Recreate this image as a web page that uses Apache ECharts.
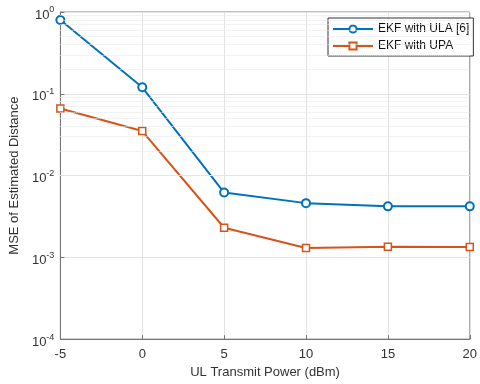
<!DOCTYPE html>
<html><head><meta charset="utf-8">
<script src="https://cdn.jsdelivr.net/npm/echarts@6/dist/echarts.min.js"></script>
<style>html,body{margin:0;padding:0;background:#fff}#c{width:480px;height:384px}</style>
</head><body><div id="c"></div>
<script>
var xValues = [-5, 0, 5, 10, 15, 20];
var ulaValues = [0.80, 0.12, 0.0062, 0.0046, 0.0042, 0.0042];
var upaValues = [0.066, 0.035, 0.0023, 0.0013, 0.00135, 0.00134];
var seriesNames = ['EKF with ULA [6]', 'EKF with UPA'];
var minorValues = [];
[1e-4, 1e-3, 1e-2, 1e-1].forEach(function (d) { for (var k = 2; k <= 9; k++) minorValues.push(+(d * k).toPrecision(3)); });

function pairs(ys) { return xValues.map(function (x, i) { return [x, ys[i]]; }); }
var font = 'Liberation Sans, Arial, sans-serif';
var chart = echarts.init(document.getElementById('c'));
chart.setOption({
  animation: false,
  grid: { left: 57, right: 4, top: 12, bottom: 44, show: true, borderColor: '#888', borderWidth: 1 },
  legend: {
    left: 328, top: 18, orient: 'vertical', itemWidth: 40, itemHeight: 9, itemGap: 5,
    backgroundColor: '#fff', borderColor: '#333', borderWidth: 1, padding: [5, 4, 4, 4],
    textStyle: { fontFamily: font, fontSize: 12, color: '#111' },
    data: seriesNames
  },
  xAxis: {
    type: 'value', min: -5, max: 20, interval: 5,
    name: 'UL Transmit Power (dBm)', nameLocation: 'middle', nameGap: 26,
    nameTextStyle: { fontFamily: font, fontSize: 13, color: '#333' },
    axisLine: { onZero: false, lineStyle: { color: '#777' } },
    axisTick: { inside: true, length: 4, lineStyle: { color: '#777' } },
    axisLabel: { fontFamily: font, fontSize: 13, color: '#333', margin: 9 },
    splitLine: { show: true, lineStyle: { color: '#e3e3e3', width: 1 } }
  },
  yAxis: {
    type: 'log', min: 1e-4, max: 1, logBase: 10,
    name: 'MSE of Estimated Distance', nameLocation: 'middle', nameGap: 31,
    nameTextStyle: { fontFamily: font, fontSize: 13, color: '#333' },
    axisLine: { onZero: false, lineStyle: { color: '#777' } },
    axisTick: { inside: true, length: 4, lineStyle: { color: '#777' } },
    axisLabel: {
      margin: 6,
      formatter: function (v) { return '{b|10}{s|' + Math.round(Math.log10(v)) + '}'; },
      rich: {
        b: { fontFamily: font, fontSize: 13, color: '#333', padding: [6, 0, 0, 0] },
        s: { fontFamily: font, fontSize: 9, color: '#333', padding: [0, 0, 4, 0] }
      }
    },
    splitLine: { show: true, lineStyle: { color: '#e3e3e3', width: 1 } }
  },
  series: [
    {
      name: seriesNames[0], type: 'line', data: pairs(ulaValues),
      symbol: 'circle', symbolSize: 8,
      lineStyle: { color: '#0072BD', width: 2 },
      itemStyle: { color: '#fff', borderColor: '#0072BD', borderWidth: 2 },
      markLine: {
        silent: true, symbol: 'none', label: { show: false },
        lineStyle: { color: '#e6e6e6', type: 'dotted', width: 1 },
        data: minorValues.map(function (v) { return { yAxis: v }; })
      },
      z: 3
    },
    {
      name: seriesNames[1], type: 'line', data: pairs(upaValues),
      symbol: 'rect', symbolSize: 7,
      lineStyle: { color: '#D95319', width: 2 },
      itemStyle: { color: '#fff', borderColor: '#D95319', borderWidth: 1.5 },
      z: 3
    }
  ]
});
</script></body></html>
